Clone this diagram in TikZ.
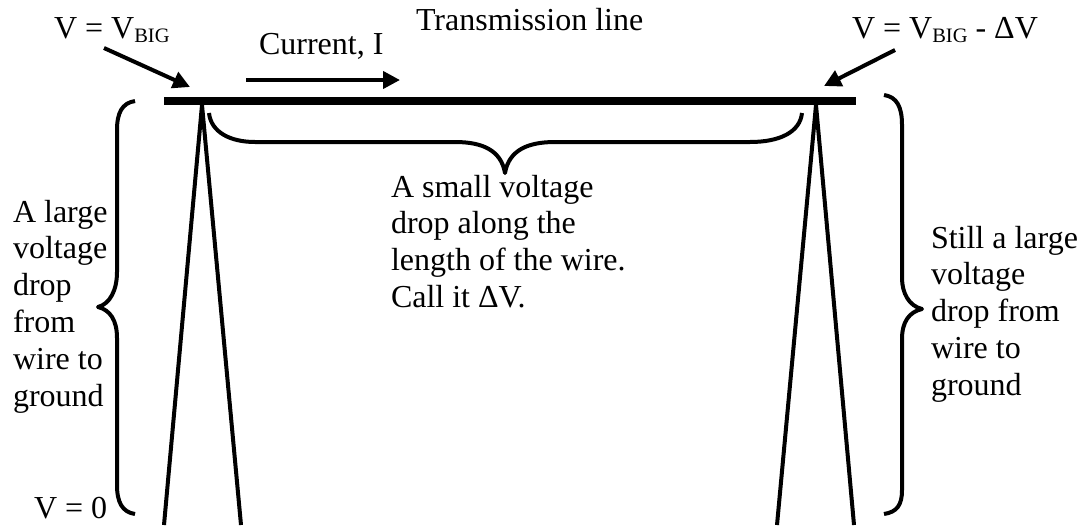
\documentclass[tikz,border=0pt]{standalone}
\usepackage{fontspec}
\setmainfont{Liberation Serif}
\usetikzlibrary{arrows.meta}
\tikzset{
  lab/.style={inner sep=0pt,outer sep=0pt,align=left,font=\fontsize{32}{36.9}\selectfont},
  pole/.style={line width=4pt,line cap=butt,line join=miter},
  brace/.style={line width=4pt,line cap=butt,line join=round},
  wire/.style={line width=8pt},
  arrow/.style={line width=4pt,-{Triangle[length=17pt,width=17pt]}},
}
\newcommand{\sub}[1]{\raisebox{-4pt}{\fontsize{20.5}{20}\selectfont #1}}
\begin{document}
\begin{tikzpicture}[x=1pt,y=-1pt]
\useasboundingbox (0,0) rectangle (1083,525);
\coordinate (wl) at (164,101);
\coordinate (wr) at (856,101);
\draw[wire] (wl) -- (wr);
\coordinate (pl) at (202,105);
\coordinate (pr) at (816,105);
\coordinate (pla) at (164,525);
\coordinate (plb) at (241,525);
\coordinate (pra) at (777,525);
\coordinate (prb) at (854,525);
\draw[pole] (pla) -- (pl) -- (plb);
\draw[pole] (pra) -- (pr) -- (prb);
\node[lab,anchor=base west] (vbig) at (54,38) {V = V\sub{BIG}};
\node[lab,anchor=base west] (cur) at (259,54) {Current, I};
\node[lab,anchor=base west] (tl) at (416,30) {Transmission line};
\node[lab,anchor=base west] (vd) at (852,38) {V = V\sub{BIG} - ΔV};
\node[lab,anchor=base west] (al) at (13,222) {\begin{tabular}[t]{@{}l@{}}A large\\voltage\\drop\\from\\wire to\\ground\end{tabular}};
\node[lab,anchor=base west] (sm) at (391,197) {\begin{tabular}[t]{@{}l@{}}A small voltage\\drop along the\\length of the wire.\\Call it ΔV.\end{tabular}};
\node[lab,anchor=base west] (st) at (931,248) {\begin{tabular}[t]{@{}l@{}}Still a large\\voltage\\drop from\\wire to\\ground\end{tabular}};
\node[lab,anchor=base west] (v0) at (34,518) {V = 0};
\coordinate (a1s) at (104,48);
\coordinate (a1e) at (190,87);
\coordinate (a2s) at (246,80);
\coordinate (a2e) at (400,80);
\coordinate (a3s) at (895,50);
\coordinate (a3e) at (824,86);
\draw[arrow] (a1s) -- (a1e);
\draw[arrow] (a2s) -- (a2e);
\draw[arrow] (a3s) -- (a3e);
\draw[brace] (135,101) .. controls (122,103) and (117,113) .. (117,130)
  -- (117,272) .. controls (117,290) and (110,304) .. (98,307)
  .. controls (110,310) and (117,320) .. (117,338)
  -- (117,485) .. controls (117,502) and (122,512) .. (135,514);
\draw[brace] (884,95) .. controls (897,97) and (902,107) .. (902,125)
  -- (902,278) .. controls (902,293) and (909,306) .. (922,309)
  .. controls (909,312) and (902,322) .. (902,339)
  -- (902,490) .. controls (902,505) and (897,512) .. (884,514);
\draw[brace] (209,113) .. controls (211,132) and (230,142) .. (255,142)
  -- (455,142) .. controls (482,142) and (501,150) .. (505,173)
  .. controls (509,150) and (528,142) .. (555,142)
  -- (750,142) .. controls (780,142) and (800,132) .. (802,113);
\end{tikzpicture}
\end{document}
